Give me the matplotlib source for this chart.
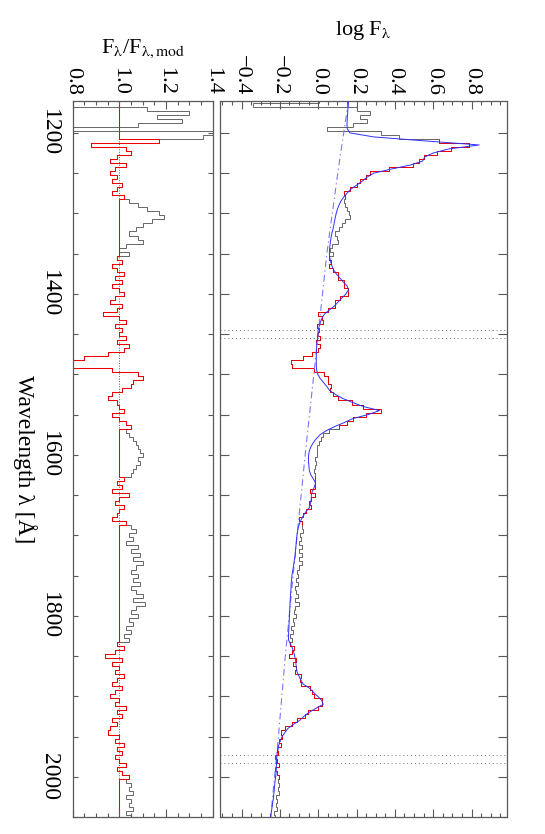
import numpy as np
import matplotlib
matplotlib.use("Agg")
import matplotlib.pyplot as plt
from matplotlib.ticker import MultipleLocator

plt.rcParams['font.family'] = ['Liberation Serif', 'DejaVu Serif']
plt.rcParams['mathtext.fontset'] = 'stix'

# wavelength grid (5 A bins)
wave = np.arange(1160, 2051, 5)

# model spectrum, log F_lambda
model_logf = [
    0.158, 0.157, 0.155, 0.154, 0.152, 0.151, 0.150, 0.152, 0.165, 0.29,
    0.56, 0.84, 0.68, 0.60, 0.555, 0.545, 0.48, 0.38, 0.29, 0.255,
    0.23, 0.20, 0.17, 0.15, 0.132, 0.118, 0.108, 0.100, 0.094, 0.089,
    0.085, 0.081, 0.077, 0.071, 0.067, 0.064, 0.061, 0.059, 0.058, 0.060,
    0.065, 0.071, 0.080, 0.094, 0.112, 0.130, 0.150, 0.158, 0.145, 0.124,
    0.104, 0.085, 0.058, 0.033, 0.020, 0.012, 0.005, 0.000, -0.002, -0.004,
    -0.006, -0.008, -0.009, -0.010, -0.010, -0.010, -0.010, -0.008, -0.002, 0.010,
    0.027, 0.045, 0.059, 0.090, 0.128, 0.180, 0.235, 0.320, 0.260, 0.180,
    0.135, 0.085, 0.042, 0.010, -0.010, -0.026, -0.038, -0.046, -0.050, -0.051,
    -0.050, -0.048, -0.046, -0.038, -0.025, -0.014, -0.020, -0.030, -0.036, -0.036,
    -0.040, -0.045, -0.062, -0.076, -0.088, -0.097, -0.104, -0.108, -0.111, -0.113,
    -0.115, -0.117, -0.119, -0.120, -0.124, -0.127, -0.130, -0.134, -0.137, -0.139,
    -0.141, -0.142, -0.143, -0.145, -0.146, -0.147, -0.148, -0.149, -0.150, -0.151,
    -0.152, -0.153, -0.154, -0.155, -0.155, -0.145, -0.135, -0.128, -0.123, -0.118,
    -0.116, -0.114, -0.110, -0.100, -0.090, -0.078, -0.045, -0.025, -0.003, 0.018,
    0.026, -0.012, -0.048, -0.075, -0.097, -0.130, -0.158, -0.174, -0.188, -0.197,
    -0.205, -0.209, -0.213, -0.216, -0.217, -0.218, -0.219, -0.220, -0.222, -0.225,
    -0.227, -0.229, -0.231, -0.233, -0.236, -0.239, -0.242, -0.245, -0.248,
]

# observed / model ratio
ratio = [
    0.70, 0.32, 1.12, 1.30, 1.16, 1.27, 1.08, 0.78, 1.45, 1.36,
    1.17, 0.88, 1.03, 1.05, 0.99, 0.96, 1.03, 0.98, 0.96, 0.99,
    0.97, 1.01, 0.99, 0.97, 1.02, 1.04, 1.08, 1.12, 1.17, 1.19,
    1.14, 1.10, 1.07, 1.04, 1.08, 1.10, 1.03, 1.00, 1.04, 0.99,
    1.01, 0.97, 0.99, 1.02, 0.98, 1.01, 0.97, 1.00, 1.02, 0.98,
    0.96, 1.01, 0.99, 0.93, 1.00, 1.03, 0.98, 1.01, 1.00, 1.03,
    0.99, 1.04, 1.02, 0.95, 0.85, 0.74, 0.75, 0.97, 1.08, 1.10,
    1.06, 1.05, 1.01, 0.97, 0.95, 0.99, 1.00, 1.02, 0.97, 1.00,
    1.03, 1.05, 1.03, 1.04, 1.06, 1.07, 1.08, 1.09, 1.10, 1.08,
    1.09, 1.07, 1.06, 1.05, 1.02, 0.99, 1.01, 0.97, 1.04, 1.00,
    0.98, 1.02, 1.00, 0.99, 0.97, 1.03, 1.05, 1.07, 1.04, 1.06,
    1.03, 1.08, 1.05, 1.09, 1.06, 1.10, 1.07, 1.05, 1.08, 1.06,
    1.09, 1.05, 1.07, 1.10, 1.06, 1.11, 1.07, 1.05, 1.08, 1.04,
    1.06, 1.03, 1.05, 1.02, 1.04, 0.99, 1.02, 0.98, 0.94, 1.01,
    0.97, 1.00, 0.98, 1.02, 0.99, 0.97, 1.01, 0.98, 0.96, 1.00,
    0.98, 1.03, 0.99, 1.01, 0.97, 0.99, 0.96, 0.95, 1.00, 0.98,
    1.02, 0.99, 1.01, 0.98, 1.00, 1.03, 0.99, 1.01, 1.04, 1.03,
    1.05, 1.04, 1.06, 1.03, 1.05, 1.04, 1.06, 1.03, 1.05,
]

# power-law continuum (dash-dot)
cont_wave = [1160, 1250, 1350, 1467, 1600, 1743, 1851, 1951, 2050]
cont_logf = [0.158, 0.102, 0.045, -0.008, -0.068, -0.128, -0.172, -0.208, -0.248]

# wavelength windows used in the fit (red)
fit_windows = [(1208, 1282), (1353, 1568), (1630, 1686), (1832, 2000)]

# excluded ranges marked by dotted lines
mark_waves = [1445, 1455, 1973, 1983]

logf_ticks = [-0.4, -0.2, 0.0, 0.2, 0.4, 0.6, 0.8]
logf_labels = ['\u22120.4', '\u22120.2', '0.0', '0.2', '0.4', '0.6', '0.8']
ratio_ticks = [0.8, 1.0, 1.2, 1.4]
ratio_labels = ['0.8', '1.0', '1.2', '1.4']
wave_ticks = [1200, 1400, 1600, 1800, 2000]

model_logf = np.array(model_logf)
ratio = np.array(ratio)
obs_logf = model_logf + np.log10(ratio)
edges = np.append(wave - 2.5, wave[-1] + 2.5)

in_fit = np.zeros(len(wave), dtype=bool)
for lo, hi in fit_windows:
    in_fit |= (wave >= lo) & (wave <= hi)
ratio_red = np.where(in_fit, ratio, 1.0)

fig = plt.figure(figsize=(5.45, 8.34), dpi=100)
W, H = 545.0, 834.0
ax_r = fig.add_axes([72.7 / W, 17 / H, 140 / W, 716.3 / H])
ax_m = fig.add_axes([219.5 / W, 17 / H, 287.5 / W, 716.3 / H])

FS = 16

# ---- ratio panel
ax_r.axvline(1.0, color='0.35', linestyle=':', linewidth=0.7, zorder=0.5)
ax_r.stairs(ratio, edges, orientation='horizontal', baseline=None,
            color='0.3', linewidth=0.6)
ax_r.stairs(ratio_red, edges, orientation='horizontal', baseline=None,
            color='#ee0000', linewidth=0.75)
ax_r.set_xlim(0.8, 1.4)
ax_r.set_ylim(2050, 1160)
ax_r.set_xticks(ratio_ticks)
ax_r.set_xticklabels(ratio_labels)
ax_r.xaxis.set_minor_locator(MultipleLocator(0.05))
ax_r.set_yticks(wave_ticks)
ax_r.set_yticklabels([str(w) for w in wave_ticks])
ax_r.yaxis.set_minor_locator(MultipleLocator(50))
ax_r.xaxis.tick_top()
ax_r.xaxis.set_label_position('top')
ax_r.set_xlabel(r'F$_\mathrm{\lambda}$/F$_\mathrm{\lambda,mod}$', fontsize=FS, labelpad=10)
ax_r.tick_params(axis='x', which='both', direction='in', top=True, bottom=True,
                 labeltop=True, labelbottom=False, labelrotation=-90,
                 labelsize=FS, pad=4)
ax_r.tick_params(axis='x', which='major', length=6)
ax_r.tick_params(axis='x', which='minor', length=3)
ax_r.tick_params(axis='y', which='both', direction='in', left=True, right=True,
                 length=3.6, labelrotation=-90, labelsize=FS + 1, pad=9)
for lbl in ax_r.get_yticklabels():
    lbl.set_va('center')

# ---- spectrum panel
ax_m.stairs(obs_logf, edges, orientation='horizontal', baseline=None,
            color='0.3', linewidth=0.6)
for lo, hi in fit_windows:
    sel = np.where((wave >= lo) & (wave <= hi))[0]
    ax_m.stairs(obs_logf[sel], edges[sel[0]:sel[-1] + 2], orientation='horizontal',
                baseline=None, color='#ee0000', linewidth=0.7)
ax_m.plot(cont_logf, cont_wave, color='#7878ff', linewidth=0.8,
          linestyle=(0, (6, 3, 1.2, 3)))
ax_m.plot(model_logf, wave, color='#3030ff', linewidth=0.7)
for w in mark_waves:
    ax_m.axhline(w, color='0.45', linestyle=(0, (1, 3)), linewidth=0.7)

ax_m.set_xlim(-0.515, 0.985)
ax_m.set_ylim(2050, 1160)
ax_m.set_xticks(logf_ticks)
ax_m.set_xticklabels(logf_labels)
ax_m.xaxis.set_minor_locator(MultipleLocator(0.05))
ax_m.set_yticks(wave_ticks)
ax_m.yaxis.set_minor_locator(MultipleLocator(50))
ax_m.xaxis.tick_top()
ax_m.xaxis.set_label_position('top')
ax_m.set_xlabel(r'log F$_\mathrm{\lambda}$', fontsize=FS, labelpad=14)
ax_m.tick_params(axis='x', which='both', direction='in', top=True, bottom=True,
                 labeltop=True, labelbottom=False, labelrotation=-90,
                 labelsize=FS, pad=4)
ax_m.tick_params(axis='x', which='major', length=6)
ax_m.tick_params(axis='x', which='minor', length=3)
ax_m.tick_params(axis='y', which='both', direction='in', left=True, right=True,
                 labelleft=False, length=6.2)

for ax in (ax_r, ax_m):
    for sp in ax.spines.values():
        sp.set_color('0.35')
        sp.set_linewidth(0.9)
    ax.tick_params(which='both', color='0.35', width=0.8)

fig.text(25 / W, 1 - 459 / H, 'Wavelength \u03bb [\u00c5]', rotation=-90,
         ha='center', va='center', fontsize=FS + 1)

fig.savefig('out.png', dpi=100)
